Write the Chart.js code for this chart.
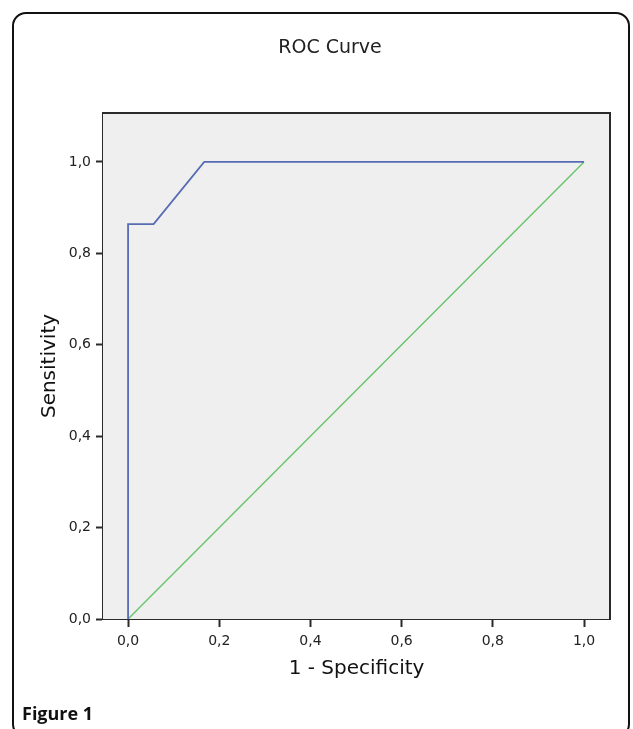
<!DOCTYPE html>
<html>
<head>
<meta charset="utf-8">
<title>ROC Curve</title>
<script src="https://cdn.jsdelivr.net/npm/chart.js@4/dist/chart.umd.min.js"></script>
<style>
    html, body { margin: 0; padding: 0; background: #fff; }
    canvas { display: block; }
</style>
</head>
<body>
<canvas id="rocChart" width="633" height="729"></canvas>
<script>
// ROC curve points (1 - specificity, sensitivity)
const fpr = [0, 0, 0.056, 0.167, 1];
const tpr = [0, 0.864, 0.864, 1, 1];

// chance line
const refX = [0, 1];
const refY = [0, 1];

const xTicks = [0, 0.2, 0.4, 0.6, 0.8, 1.0];
const yTicks = [0, 0.2, 0.4, 0.6, 0.8, 1.0];

const chartTitle = 'ROC Curve';
const figureLabel = 'Figure 1';

const FONT = '"DejaVu Sans", Verdana, sans-serif';

function toPoints(xs, ys) {
    return xs.map((x, i) => ({ x: x, y: ys[i] }));
}

function commaLabel(v) {
    return Number(v).toFixed(1).replace('.', ',');
}

// grey plot background, box around it, page frame and captions
const decorations = {
    id: 'decorations',
    beforeDatasetsDraw(chart) {
        const { ctx, chartArea: a } = chart;
        ctx.save();
        ctx.fillStyle = '#efefef';
        ctx.fillRect(a.left, a.top, a.right - a.left, a.bottom - a.top);
        ctx.restore();
    },
    afterDraw(chart) {
        const { ctx, chartArea: a } = chart;
        ctx.save();
        ctx.strokeStyle = '#2a2a2a';
        ctx.lineWidth = 2;
        ctx.beginPath();
        ctx.moveTo(a.left, a.top);
        ctx.lineTo(a.right, a.top);
        ctx.lineTo(a.right, a.bottom);
        ctx.stroke();

        // outer rounded frame
        ctx.strokeStyle = '#111';
        ctx.lineWidth = 2;
        ctx.beginPath();
        ctx.roundRect(13, 13, 616, 724, 13);
        ctx.stroke();

        ctx.fillStyle = '#222';
        ctx.font = '19px ' + FONT;
        ctx.textAlign = 'center';
        ctx.textBaseline = 'middle';
        ctx.fillText(chartTitle, 330, 48);

        ctx.fillStyle = '#111';
        ctx.font = 'bold 18px "Open Sans", sans-serif';
        ctx.textAlign = 'left';
        ctx.textBaseline = 'alphabetic';
        ctx.fillText(figureLabel, 22, 720);
        ctx.restore();
    }
};

const ctx = document.getElementById('rocChart').getContext('2d');
new Chart(ctx, {
    type: 'scatter',
    data: {
        datasets: [{
            label: 'ROC',
            data: toPoints(fpr, tpr),
            showLine: true,
            borderColor: 'rgb(88, 108, 180)',
            borderWidth: 1.8,
            pointRadius: 0,
            tension: 0
        }, {
            label: 'Reference',
            data: toPoints(refX, refY),
            showLine: true,
            borderColor: 'rgb(104, 196, 104)',
            borderWidth: 1.4,
            pointRadius: 0,
            tension: 0
        }]
    },
    options: {
        responsive: false,
        animation: false,
        layout: { padding: { top: 113, right: 23, left: 0, bottom: 0 } },
        plugins: {
            legend: { display: false },
            tooltip: { enabled: false }
        },
        scales: {
            x: {
                type: 'linear',
                min: -0.055,
                max: 1.057,
                afterBuildTicks: s => { s.ticks = xTicks.map(v => ({ value: v })); },
                afterFit: s => { s.height = 110; },
                border: { color: '#2a2a2a', width: 2 },
                grid: { drawOnChartArea: false, drawTicks: true, tickLength: 8, tickColor: '#2a2a2a', tickWidth: 2 },
                ticks: {
                    padding: 6,
                    color: '#222',
                    font: { family: FONT, size: 14 },
                    callback: v => commaLabel(v)
                },
                title: {
                    display: true,
                    text: '1 - Specificity',
                    color: '#111',
                    font: { family: FONT, size: 20 },
                    padding: { top: 0, bottom: 48 }
                }
            },
            y: {
                type: 'linear',
                min: 0,
                max: 1.107,
                afterBuildTicks: s => { s.ticks = yTicks.map(v => ({ value: v })); },
                afterFit: s => { s.width = 103; },
                border: { color: '#2a2a2a', width: 2 },
                grid: { drawOnChartArea: false, drawTicks: true, tickLength: 7, tickColor: '#2a2a2a', tickWidth: 2 },
                ticks: {
                    padding: 5,
                    color: '#222',
                    font: { family: FONT, size: 14 },
                    callback: v => commaLabel(v)
                },
                title: {
                    display: true,
                    text: 'Sensitivity',
                    color: '#111',
                    font: { family: FONT, size: 20 },
                    padding: { top: 38, bottom: 0 }
                }
            }
        }
    },
    plugins: [decorations]
});
</script>
</body>
</html>
